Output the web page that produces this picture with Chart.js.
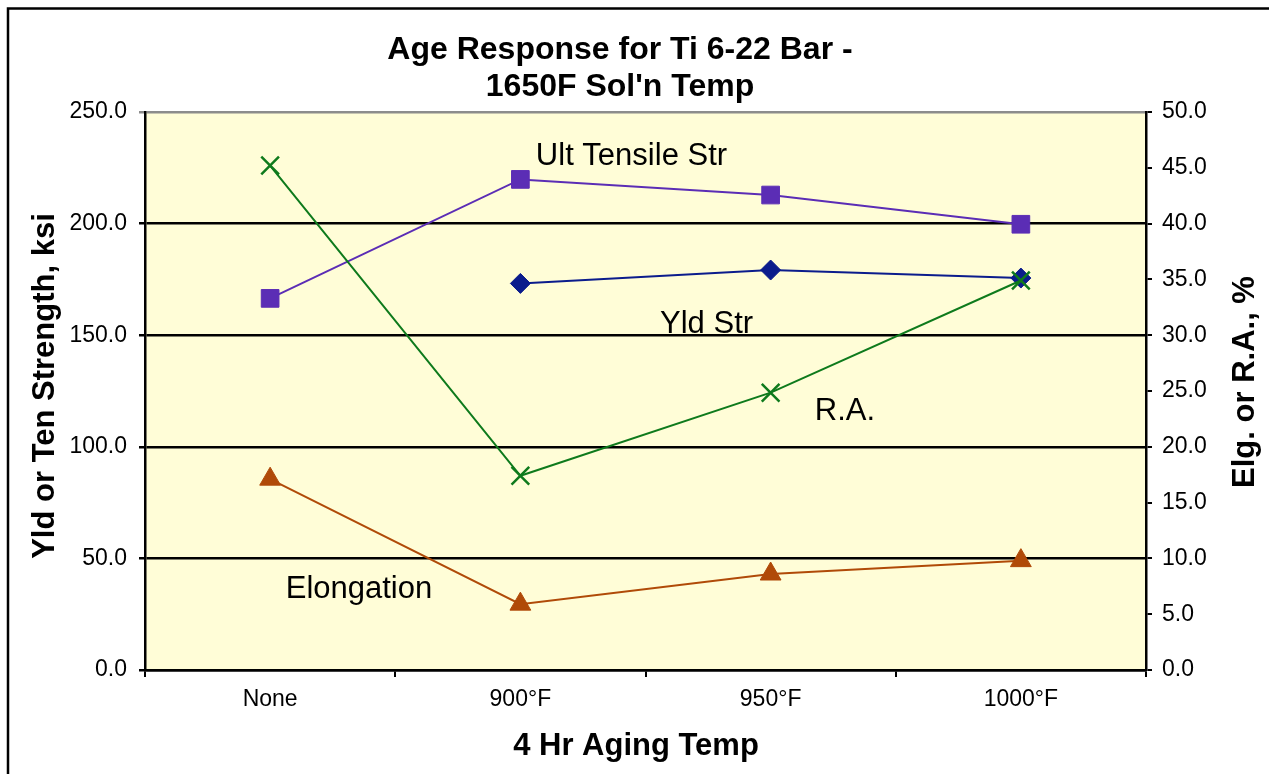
<!DOCTYPE html>
<html>
<head>
<meta charset="utf-8">
<script src="https://cdn.jsdelivr.net/npm/chart.js@4.4.0/dist/chart.umd.min.js"></script>
<style>
  body { margin: 0; background: #fff; }
  #wrap { width: 1269px; height: 774px; }
</style>
</head>
<body>
<div id="wrap"><canvas id="myChart" width="1269" height="774"></canvas></div>
<script>
const categories = ["None", "900°F", "950°F", "1000°F"];
const ultTensile = [166.5, 219.8, 212.8, 199.7];
const yieldStr = [null, 173.2, 179.2, 175.6];
const reductionArea = [45.2, 17.4, 24.85, 34.9];
const elongation = [17.1, 5.9, 8.6, 9.8];

const titleLines = ["Age Response for Ti 6-22 Bar -", "1650F Sol'n Temp"];
const xTitle = "4 Hr Aging Temp";
const yLeftTitle = "Yld or Ten Strength, ksi";
const yRightTitle = "Elg. or R.A., %";

// labels written inside the plot, placed in data units (category index, left axis value)
const noteText = ["Ult Tensile Str", "Yld Str", "R.A.", "Elongation"];
const noteX = [1.444, 1.744, 2.297, 0.355];
const noteY = [226.3, 151.1, 112.0, 32.1];

const FONT = "'Liberation Sans', Arial, sans-serif";

const decorations = {
  id: "decorations",
  beforeDraw(chart) {
    const ctx = chart.ctx;
    const a = chart.chartArea;
    ctx.save();
    ctx.fillStyle = "#ffffff";
    ctx.fillRect(0, 0, chart.width, chart.height);
    ctx.fillStyle = "#FFFDD7";
    ctx.fillRect(a.left, a.top, a.right - a.left, a.bottom - a.top);
    // outer frame
    ctx.strokeStyle = "#000";
    ctx.lineWidth = 2.5;
    ctx.strokeRect(8, 8.5, 1400, 900);
    ctx.restore();
  },
  afterDraw(chart) {
    const ctx = chart.ctx;
    const x = chart.scales.x;
    const y = chart.scales.y;
    ctx.save();
    ctx.fillStyle = "#000";

    // title
    ctx.font = "bold 32px " + FONT;
    ctx.textAlign = "center";
    ctx.textBaseline = "alphabetic";
    ctx.fillText(titleLines[0], 620, 59);
    ctx.fillText(titleLines[1], 620, 96);

    // axis titles
    ctx.font = "bold 31px " + FONT;
    ctx.fillText(xTitle, 636, 755);

    ctx.textBaseline = "middle";
    ctx.save();
    ctx.translate(45, 386);
    ctx.rotate(-Math.PI / 2);
    ctx.fillText(yLeftTitle, 0, 0);
    ctx.restore();

    ctx.save();
    ctx.translate(1245, 382);
    ctx.rotate(-Math.PI / 2);
    ctx.fillText(yRightTitle, 0, 0);
    ctx.restore();

    // series labels
    ctx.font = "31px " + FONT;
    ctx.textBaseline = "alphabetic";
    noteText.forEach((t, i) => {
      ctx.fillText(t, x.getPixelForValue(noteX[i]), y.getPixelForValue(noteY[i]));
    });
    ctx.restore();
  }
};

const tickFont = { family: FONT, size: 23 };

const ctx = document.getElementById("myChart").getContext("2d");

var chart = new Chart(ctx, {
  type: "line",
  data: {
    labels: categories,
    datasets: [
      {
        label: "R.A.",
        data: reductionArea,
        yAxisID: "y2",
        borderColor: "#0E7A1C",
        backgroundColor: "#0E7A1C",
        borderWidth: 2,
        pointStyle: "crossRot",
        pointRadius: 12.5,
        pointBorderWidth: 2.5,
      },
      {
        label: "Elongation",
        data: elongation,
        yAxisID: "y2",
        borderColor: "#B04A08",
        backgroundColor: "#B04A08",
        borderWidth: 2,
        pointStyle: "triangle",
        pointRadius: 12,
        pointBorderWidth: 1,
      },
      {
        label: "Ult Tensile Str",
        data: ultTensile,
        yAxisID: "y",
        borderColor: "#5B2DB5",
        backgroundColor: "#5B2DB5",
        borderWidth: 2,
        pointStyle: "rect",
        pointRadius: 12.5,
        pointBorderWidth: 1,
      },
      {
        label: "Yld Str",
        data: yieldStr,
        yAxisID: "y",
        borderColor: "#0B1C8C",
        backgroundColor: "#0B1C8C",
        borderWidth: 2,
        pointStyle: "rectRot",
        pointRadius: 10,
        pointBorderWidth: 1,
      },
    ],
  },
  options: {
    responsive: false,
    animation: false,
    layout: { padding: { top: 112, left: 0, right: 0, bottom: 0 } },
    plugins: {
      legend: { display: false },
      tooltip: { enabled: false },
      title: { display: false },
    },
    elements: { line: { tension: 0 } },
    scales: {
      x: {
        type: "category",
        offset: true,
        grid: {
          offset: true,
          drawOnChartArea: false,
          color: "#000",
          lineWidth: 2,
          tickLength: 7,
        },
        border: { color: "#000", width: 2.5 },
        ticks: { font: tickFont, color: "#000", padding: 9, maxRotation: 0 },
        afterFit(s) { s.height = 104; },
      },
      y: {
        position: "left",
        min: 0,
        max: 250,
        ticks: {
          stepSize: 50,
          font: tickFont,
          color: "#000",
          padding: 12,
          callback: (v) => v.toFixed(1),
        },
        grid: {
          color: (c) => (c.tick && c.tick.value === 250 ? "#8C8C8C" : "#000"),
          lineWidth: 2.5,
          tickLength: 6,
        },
        border: { color: "#000", width: 2.5 },
        afterFit(s) { s.width = 145; },
      },
      y2: {
        position: "right",
        min: 0,
        max: 50,
        ticks: {
          stepSize: 5,
          font: tickFont,
          color: "#000",
          padding: 10,
          callback: (v) => v.toFixed(1),
        },
        grid: { drawOnChartArea: false, color: "#000", lineWidth: 2, tickLength: 6 },
        border: { color: "#000", width: 2.5 },
        afterFit(s) { s.width = 123; },
      },
    },
  },
  plugins: [decorations],
});
</script>
</body>
</html>
